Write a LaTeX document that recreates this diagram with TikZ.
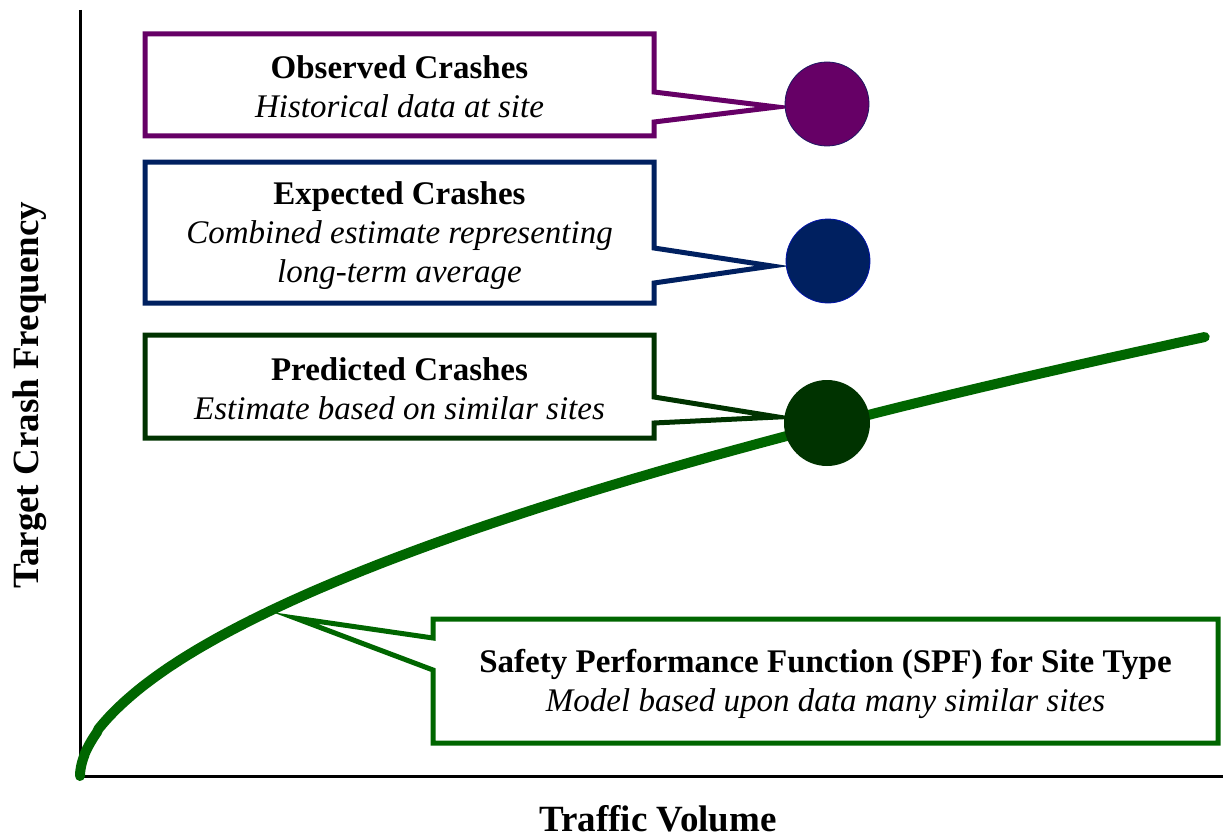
\documentclass[tikz,border=0pt]{standalone}
\usepackage{fontspec}
\setmainfont{Liberation Serif}
\definecolor{purp}{HTML}{660066}
\definecolor{navy}{HTML}{002060}
\definecolor{dkgreen}{HTML}{003300}
\definecolor{spfgreen}{HTML}{006600}
\begin{document}
\begin{tikzpicture}[x=1pt,y=-1pt,
  boxtext/.style={align=center, inner sep=0pt, font=\fontsize{33}{39}\selectfont},
  outline/.style={line width=5pt, line join=miter},
  dot/.style={circle, inner sep=0pt, minimum size=84pt},
  axis/.style={line width=3pt, black},
  axlabel/.style={font=\fontsize{37}{40}\selectfont\bfseries, inner sep=0pt}
]
\useasboundingbox (0,0) rectangle (1223,840);

% axes
\coordinate (origin) at (80,776);
\coordinate (ytop) at (80,10);
\coordinate (xend) at (1223,776);
\draw[axis] (ytop) -- (origin) -- (xend);

% axis labels
\node[axlabel, rotate=90] (ylab) at (30,395) {Target Crash Frequency};
\node[axlabel, anchor=base] (xlab) at (658,831) {Traffic Volume};

% SPF curve
\draw[spfgreen, line width=10pt, line cap=round]
  (origin) -- plot[domain=0.01:1, samples=160, variable=\u]
  ({80+1125*\u*\u}, {776-439*(\u^1.1)});

% Observed
\node[boxtext, minimum width=509pt, minimum height=102pt] (obs) at (399.5,86.5)
  {\textbf{Observed Crashes}\\\textit{Historical data at site}};
\coordinate (obstip) at (777,107);
\draw[purp, outline] (145,34) -- (654,34) -- (654,92) -- (obstip)
  -- (654,122) -- (654,136) -- (145,136) -- cycle;
\node[dot, fill=purp, draw=navy!70!purp, line width=0.8pt] (obsdot) at (827,104) {};

% Expected
\node[boxtext, minimum width=509pt, minimum height=141pt] (exp) at (399.5,236)
  {\textbf{Expected Crashes}\\\textit{Combined estimate representing}\\\textit{long-term average}};
\coordinate (exptip) at (772,266);
\draw[navy, outline] (145,162) -- (654,162) -- (654,248) -- (exptip)
  -- (654,283) -- (654,303) -- (145,303) -- cycle;
\node[dot, fill=navy, draw=blue!45!navy, line width=0.8pt] (expdot) at (828,261) {};

% Predicted
\node[boxtext, minimum width=509pt, minimum height=103pt] (pred) at (399.5,389)
  {\textbf{Predicted Crashes}\\\textit{Estimate based on similar sites}};
\coordinate (predtip) at (778,417);
\draw[dkgreen, outline] (145,335) -- (654,335) -- (654,397) -- (predtip)
  -- (654,423) -- (654,438) -- (145,438) -- cycle;
\node[dot, fill=dkgreen, minimum size=86pt] (preddot) at (827,423) {};

% SPF box
\node[boxtext, minimum width=785pt, minimum height=124pt] (spf) at (825.5,683.5)
  {\textbf{Safety Performance Function (SPF) for Site Type}\\\textit{Model based upon data many similar sites}};
\coordinate (spftip) at (295,618);
\draw[spfgreen, outline] (433,619) -- (1218,619) -- (1218,743)
  -- (433,743) -- (433,670) -- (spftip) -- (433,638) -- cycle;
\end{tikzpicture}
\end{document}
